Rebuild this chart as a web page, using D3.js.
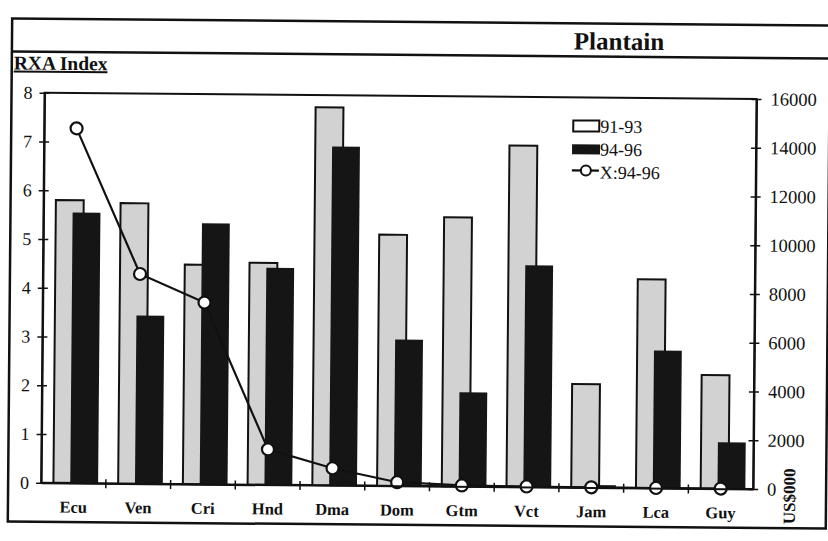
<!DOCTYPE html>
<html>
<head>
<meta charset="utf-8">
<script src="https://cdn.jsdelivr.net/npm/d3@7"></script>
<style>
  html, body { margin: 0; padding: 0; background: #fff; }
  svg { display: block; }
</style>
</head>
<body>
<svg id="chart" width="828" height="541"></svg>
<script>
// ---- data ----
const categories = ["Ecu", "Ven", "Cri", "Hnd", "Dma", "Dom", "Gtm", "Vct", "Jam", "Lca", "Guy"];
const rxa9193 = [5.8, 5.75, 4.5, 4.55, 7.75, 5.15, 5.52, 7.0, 2.12, 4.28, 2.33];
const rxa9496 = [5.55, 3.45, 5.35, 4.45, 6.95, 3.0, 1.93, 4.55, 0.05, 2.82, 0.95];
const exports9496 = [14550, 8600, 7450, 1450, 700, 150, 40, 20, 10, 5, 5];
const leftTicks = [0, 1, 2, 3, 4, 5, 6, 7, 8];
const rightTicks = [0, 2000, 4000, 6000, 8000, 10000, 12000, 14000, 16000];
const seriesNames = ["91-93", "94-96", "X:94-96"];

const FONT = "'Liberation Serif', 'Times New Roman', 'DejaVu Serif', serif";

// ---- layout ----
const svg = d3.select("#chart");
const root = svg.append("g").attr("transform", "rotate(0.5 414 270)")
  .attr("font-family", FONT);
const L = 43, R = 755, T = 96, B = 486;

// outer frame + title band
root.append("rect").attr("x", 10).attr("y", 22).attr("width", 818).attr("height", 503)
  .attr("fill", "none").attr("stroke", "#111").attr("stroke-width", 2.5);
root.append("line").attr("x1", 10).attr("x2", 828).attr("y1", 55).attr("y2", 55)
  .attr("stroke", "#111").attr("stroke-width", 2.5);
root.append("text").attr("x", 617).attr("y", 48).attr("text-anchor", "middle")
  .attr("font-family", FONT).attr("fill", "#111")
  .attr("font-size", 25).attr("font-weight", "bold").text("Plantain");
root.append("text").attr("x", 12).attr("y", 73).attr("font-size", 19.5).attr("font-weight", "bold")
  .attr("font-family", FONT).attr("fill", "#111")
  .attr("text-decoration", "underline").text("RXA Index");

const x = d3.scaleBand().domain(categories).range([L, R]).paddingInner(0).paddingOuter(0);
const yL = d3.scaleLinear().domain([0, 8]).range([B, T]);
const yR = d3.scaleLinear().domain([0, 16000]).range([B, T]);
const bw = x.bandwidth();

// plot box
root.append("rect").attr("x", L).attr("y", T).attr("width", R - L).attr("height", B - T)
  .attr("fill", "none").attr("stroke", "#111").attr("stroke-width", 2);

// bars 91-93
root.append("g").selectAll("rect").data(categories).join("rect")
  .attr("x", (d) => x(d) + bw * 0.19)
  .attr("y", (d, i) => yL(rxa9193[i]))
  .attr("width", bw * 0.43)
  .attr("height", (d, i) => B - yL(rxa9193[i]))
  .attr("fill", "#d2d2d2").attr("stroke", "#111").attr("stroke-width", 2);

// bars 94-96
root.append("g").selectAll("rect").data(categories).join("rect")
  .attr("x", (d) => x(d) + bw * 0.45)
  .attr("y", (d, i) => yL(rxa9496[i]))
  .attr("width", bw * 0.43)
  .attr("height", (d, i) => B - yL(rxa9496[i]))
  .attr("fill", "#151515");

// line X:94-96
const lineGen = d3.line().x((d, i) => x(categories[i]) + bw * 0.5).y((d) => yR(d));
root.append("path").datum(exports9496).attr("d", lineGen)
  .attr("fill", "none").attr("stroke", "#111").attr("stroke-width", 2.2);
root.append("g").selectAll("circle").data(exports9496).join("circle")
  .attr("cx", (d, i) => x(categories[i]) + bw * 0.5).attr("cy", (d) => yR(d)).attr("r", 6)
  .attr("fill", "#fff").attr("stroke", "#111").attr("stroke-width", 2.2);

// axes
const axL = root.append("g").attr("transform", `translate(${L},0)`)
  .call(d3.axisLeft(yL).tickValues(leftTicks).tickFormat(d3.format("d")).tickSizeInner(5).tickSizeOuter(0).tickPadding(7));
axL.selectAll(".tick line").attr("x2", 5).attr("x1", -5);
const axR = root.append("g").attr("transform", `translate(${R},0)`)
  .call(d3.axisRight(yR).tickValues(rightTicks).tickFormat(d3.format("d")).tickSizeInner(5).tickSizeOuter(0).tickPadding(9));
axR.selectAll(".tick line").attr("x1", -5).attr("x2", 5);
const axB = root.append("g").attr("transform", `translate(0,${B})`)
  .call(d3.axisBottom(x).tickSize(0).tickPadding(18));
[axL, axR, axB].forEach((a) => {
  a.attr("font-family", FONT);
  a.select(".domain").attr("stroke", "#111").attr("stroke-width", 2);
  a.selectAll(".tick line").attr("stroke", "#111").attr("stroke-width", 1.5);
  a.selectAll("text").attr("fill", "#111").attr("font-family", FONT);
});
axL.selectAll("text").attr("font-size", 18);
axR.selectAll("text").attr("font-size", 18.5);
axB.selectAll("text").attr("font-size", 16.5).attr("font-weight", "bold");
// category boundary ticks on bottom axis
root.append("g").selectAll("line").data(categories.slice(1)).join("line")
  .attr("x1", (d) => x(d)).attr("x2", (d) => x(d)).attr("y1", B - 4).attr("y2", B + 5)
  .attr("stroke", "#111").attr("stroke-width", 1.5);

// right axis unit label
root.append("text").attr("transform", "translate(797,521) rotate(-90)")
  .attr("font-family", FONT).attr("fill", "#111")
  .attr("font-size", 17).attr("font-weight", "bold").text("US$000");

// legend
const lg = root.append("g");
lg.append("rect").attr("x", 572).attr("y", 119).attr("width", 26).attr("height", 11)
  .attr("fill", "#fff").attr("stroke", "#111").attr("stroke-width", 2);
lg.append("rect").attr("x", 571).attr("y", 143).attr("width", 28).attr("height", 10).attr("fill", "#151515");
lg.append("line").attr("x1", 571).attr("x2", 598).attr("y1", 169).attr("y2", 169)
  .attr("stroke", "#111").attr("stroke-width", 2.2);
lg.append("circle").attr("cx", 585).attr("cy", 169).attr("r", 5)
  .attr("fill", "#fff").attr("stroke", "#111").attr("stroke-width", 2);
lg.selectAll("text.lt").data(seriesNames).join("text").attr("class", "lt")
  .attr("font-family", FONT).attr("fill", "#111")
  .attr("x", 599).attr("y", (d, i) => 131 + i * 23).attr("font-size", 18).text((d) => d);
</script>
</body>
</html>
